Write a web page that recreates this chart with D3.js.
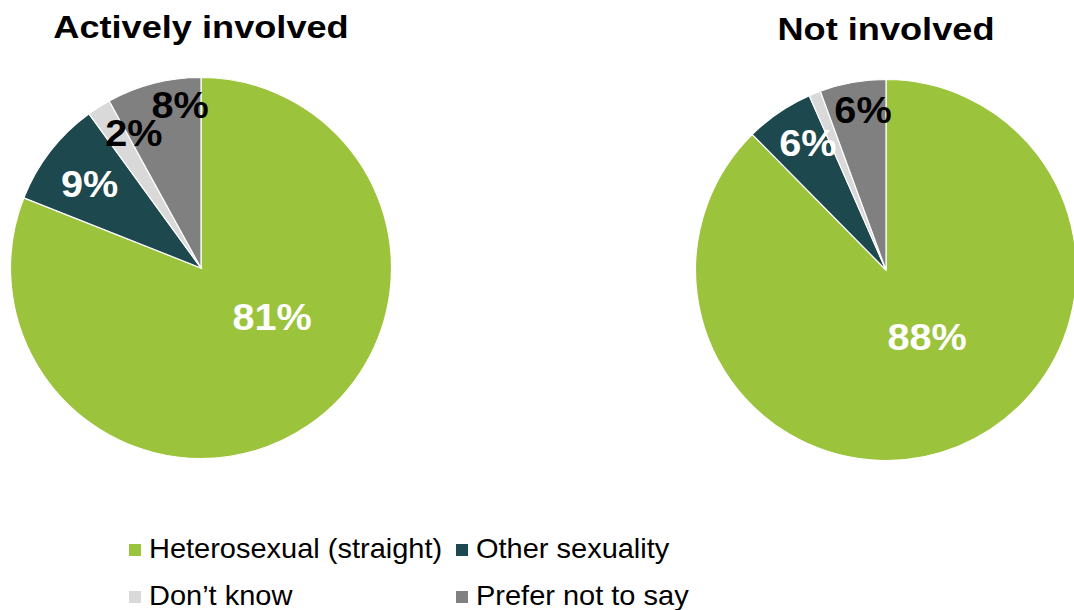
<!DOCTYPE html>
<html>
<head>
<meta charset="utf-8">
<script src="https://cdn.jsdelivr.net/npm/d3@7"></script>
<style>
  html, body { margin: 0; padding: 0; background: #fff; }
  svg { display: block; }
  text { font-family: "Liberation Sans", Arial, sans-serif; }
</style>
</head>
<body>
<svg id="chart" width="1074" height="610"></svg>
<script>
// ---- data ----
const categories = ["Heterosexual (straight)", "Other sexuality", "Don\u2019t know", "Prefer not to say"];
const groupTitles = ["Actively involved", "Not involved"];
const activelyInvolved = [81, 9, 2, 8];
const notInvolved = [87.6, 5.8, 1.0, 5.6];
const activelyLabels = ["81%", "9%", "2%", "8%"];
const notInvolvedLabels = ["88%", "6%", "", "6%"];

// ---- styles / layout ----
const colors = ["#9BC33C", "#1D484D", "#D9D9D9", "#808080"];
const labelColors = ["#fff", "#fff", "#000", "#000"];
const pies = [
  { title: groupTitles[0], values: activelyInvolved, labels: activelyLabels, cx: 201, cy: 268, titleY: 38,
    // label placement: [angle offset deg from slice mid, radius fraction]
    place: [[-21.2, 0.454], [-0.7, 0.733], [6, 0.793], [7.1, 0.865]] },
  { title: groupTitles[1], values: notInvolved, labels: notInvolvedLabels, cx: 886, cy: 270, titleY: 40,
    place: [[-9.2, 0.413], [2.6, 0.784], [0, 0.8], [1.9, 0.85]] }
];
const R = 190.5;

// horizontally stretch text to match the reference's wide glyphs
function stretch(sel, k) {
  sel.each(function () {
    const w = this.getComputedTextLength();
    if (w > 0) {
      d3.select(this).attr("textLength", w * k).attr("lengthAdjust", "spacingAndGlyphs");
    }
  });
}

const svg = d3.select("#chart");
const pie = d3.pie().sort(null).value(d => d);
const arc = d3.arc().innerRadius(0).outerRadius(R);
const color = d3.scaleOrdinal().domain(d3.range(categories.length)).range(colors);

pies.forEach(p => {
  const g = svg.append("g").attr("transform", `translate(${p.cx},${p.cy})`);
  const arcs = pie(p.values);
  g.selectAll("path").data(arcs).join("path")
    .attr("d", arc)
    .attr("fill", (d, i) => color(i))
    .attr("stroke", "#fff")
    .attr("stroke-width", 1.2);

  const lbl = g.selectAll("text.lbl").data(arcs).join("text")
    .attr("class", "lbl")
    .attr("x", (d, i) => {
      const a = (d.startAngle + d.endAngle) / 2 + p.place[i][0] * Math.PI / 180;
      return Math.sin(a) * R * p.place[i][1];
    })
    .attr("y", (d, i) => {
      const a = (d.startAngle + d.endAngle) / 2 + p.place[i][0] * Math.PI / 180;
      return -Math.cos(a) * R * p.place[i][1];
    })
    .attr("dy", "0.36em")
    .attr("text-anchor", "middle")
    .attr("font-size", 37)
    .attr("font-weight", "bold")
    .attr("fill", (d, i) => labelColors[i])
    .text((d, i) => p.labels[i]);
  stretch(lbl, 1.07);

  const t = svg.append("text")
    .attr("x", p.cx)
    .attr("y", p.titleY)
    .attr("text-anchor", "middle")
    .attr("font-size", 32)
    .attr("font-weight", "bold")
    .attr("fill", "#000")
    .text(p.title);
  stretch(t, 1.13);
});

// ---- legend ----
const legendPos = [[129, 558], [456, 558], [129, 605], [456, 605]];
const lg = svg.append("g");
categories.forEach((c, i) => {
  const [x, y] = legendPos[i];
  lg.append("rect").attr("x", x).attr("y", y - 14).attr("width", 12).attr("height", 12).attr("fill", colors[i]);
  const t = lg.append("text").attr("x", x + 20).attr("y", y)
    .attr("font-size", 28).attr("fill", "#000").text(c);
  stretch(t, 1.035);
});
</script>
</body>
</html>
